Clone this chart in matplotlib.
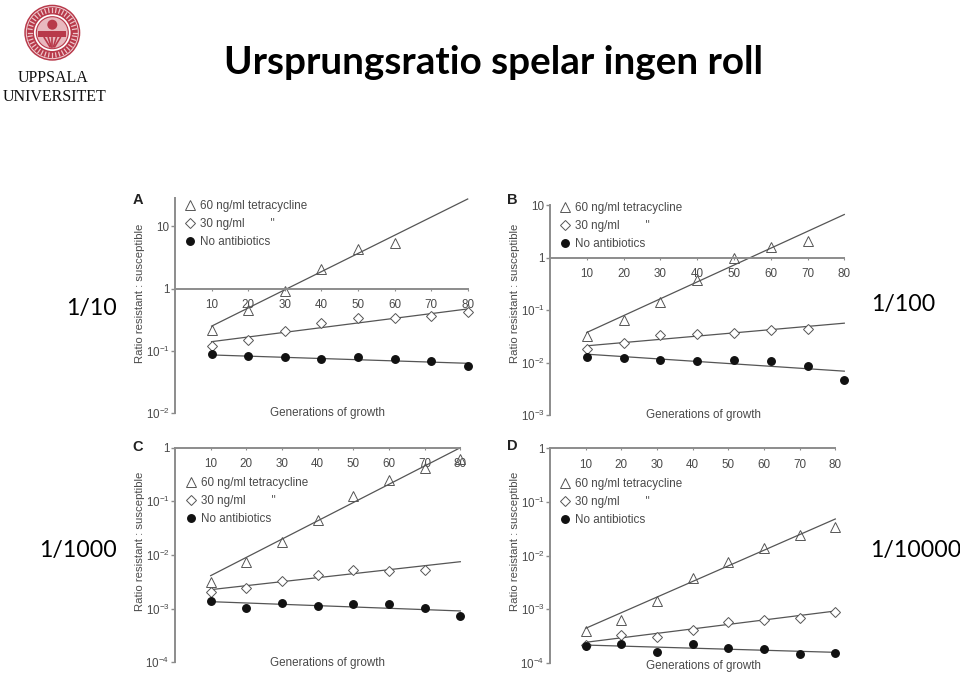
import matplotlib
matplotlib.use('Agg')
import matplotlib.pyplot as plt
import numpy as np
from matplotlib.patches import Circle, Rectangle

plt.rcParams['font.family'] = ['Liberation Sans', 'DejaVu Sans']
plt.rcParams['mathtext.default'] = 'regular'

W, H = 960, 676

gens = [10, 20, 30, 40, 50, 60, 70, 80]
fit_x = [10, 80]

# panel A
a_tri = [0.217, 0.455, 0.92, 2.07, 4.4, 5.3]
a_dia = [0.119, 0.152, 0.209, 0.281, 0.334, 0.339, 0.36, 0.417]
a_cir = [0.0885, 0.082, 0.079, 0.0745, 0.079, 0.0745, 0.069, 0.0568]
a_tri_fit = [0.25, 27.4]
a_dia_fit = [0.141, 0.472]
a_cir_fit = [0.0863, 0.0634]

# panel B
b_tri = [0.0313, 0.065, 0.145, 0.37, 1.0, 1.62, 2.05]
b_dia = [0.0179, 0.0233, 0.0332, 0.0352, 0.0367, 0.0407, 0.0444]
b_cir = [0.01264, 0.0121, 0.01124, 0.01045, 0.01124, 0.01045, 0.0084, 0.00474]
b_tri_fit = [0.0373, 6.59]
b_dia_fit = [0.0208, 0.0561]
b_cir_fit = [0.0144, 0.00684]

# panel C
c_tri = [0.0031, 0.00751, 0.0172, 0.0449, 0.1275, 0.25, 0.424, 0.615]
c_dia = [0.00201, 0.00246, 0.00333, 0.0043, 0.00518, 0.0051, 0.00533]
c_cir = [0.00141, 0.00103, 0.00128, 0.00114, 0.0012, 0.0012, 0.00101, 0.00073]
c_tri_fit = [0.00412, 1.0]
c_dia_fit = [0.00226, 0.0075]
c_cir_fit = [0.00135, 0.000906]

# panel D
d_tri = [0.0004, 0.000633, 0.00143, 0.00389, 0.0075, 0.0137, 0.0243, 0.0347]
d_dia = [0.000216, 0.000328, 0.000305, 0.000412, 0.00058, 0.000633, 0.00069, 0.00089]
d_cir = [0.000207, 0.000223, 0.000163, 0.000223, 0.000193, 0.000182, 0.000145, 0.000153]
d_tri_fit = [0.000443, 0.0482]
d_dia_fit = [0.000243, 0.00093]
d_cir_fit = [0.000216, 0.000158]

legend_labels = ['60 ng/ml tetracycline', '30 ng/ml        "', 'No antibiotics']
ytick_labels = {10: '10', 1: '1', 0.1: '$10^{-1}$', 0.01: '$10^{-2}$',
                0.001: '$10^{-3}$', 0.0001: '$10^{-4}$'}

# letter, series, then layout in pixels: left, right, top, bottom, ymax, ymin
panels = [
    ('A', a_tri, a_dia, a_cir, a_tri_fit, a_dia_fit, a_cir_fit,
     (175, 467.7, 198.4, 413.3, 28, 0.01), (138, 200), (328, 413), (140, 293), (184, 200)),
    ('B', b_tri, b_dia, b_cir, b_tri_fit, b_dia_fit, b_cir_fit,
     (550, 844.3, 205, 415, 10, 0.001), (512, 200), (703, 415), (515, 293), (559, 202)),
    ('C', c_tri, c_dia, c_cir, c_tri_fit, c_dia_fit, c_cir_fit,
     (175, 460.3, 447.7, 662.3, 1, 0.0001), (138, 447), (328, 662.7), (140, 541), (185, 477)),
    ('D', d_tri, d_dia, d_cir, d_tri_fit, d_dia_fit, d_cir_fit,
     (550, 835.3, 448.3, 663, 1, 0.0001), (512, 446), (703, 665.7), (515, 541), (559, 478)),
]

axis_col = '#8c8c8c'
line_col = '#555555'
text_col = '#4a4a4a'
fs = 8.4

fig = plt.figure(figsize=(W / 100, H / 100), dpi=100)


def px_text(x, y, s, **kw):
    fig.text(x / W, 1 - y / H, s, **kw)


for letter, tri, dia, cir, tri_fit, dia_fit, cir_fit, box, let_xy, xl_xy, yl_xy, leg_xy in panels:
    left, right, top, bottom, ymax, ymin = box
    ax = fig.add_axes([left / W, 1 - bottom / H, (right - left) / W, (bottom - top) / H])
    ax.patch.set_alpha(0)
    ax.set_yscale('log')
    ax.set_xlim(0, 80)
    ax.set_ylim(ymin, ymax)

    ax.plot(fit_x, tri_fit, color=line_col, lw=0.9, clip_on=False)
    ax.plot(fit_x, dia_fit, color=line_col, lw=0.9, clip_on=False)
    ax.plot(fit_x, cir_fit, color=line_col, lw=0.9, clip_on=False)
    h1, = ax.plot(gens[:len(tri)], tri, ls='none', marker='^', ms=7, mfc='none', mec='#555555',
                  mew=0.7, clip_on=False)
    h2, = ax.plot(gens[:len(dia)], dia, ls='none', marker='D', ms=5, mfc='white', mec='#555555',
                  mew=0.7, clip_on=False)
    h3, = ax.plot(gens[:len(cir)], cir, ls='none', marker='o', ms=5.4, mfc='#111111', mec='#111111',
                  clip_on=False)

    for s in ['top', 'right']:
        ax.spines[s].set_visible(False)
    ax.spines['left'].set_color(axis_col)
    ax.spines['left'].set_linewidth(1.4)
    ax.spines['bottom'].set_position(('data', 1))
    ax.spines['bottom'].set_color(axis_col)
    ax.spines['bottom'].set_linewidth(1.4)

    yt = [v for v in ytick_labels if ymin <= v <= ymax]
    ax.set_yticks(yt)
    ax.set_yticklabels([ytick_labels[v] for v in yt], fontsize=fs, color=text_col)
    ax.minorticks_off()
    ax.set_xticks(gens)
    ax.set_xticklabels([str(g) for g in gens], fontsize=fs, color=text_col)
    ax.tick_params(axis='y', length=3, width=1, color=axis_col, pad=1)
    ax.tick_params(axis='x', length=1.5, width=0.8, color=axis_col, pad=6)

    ax.legend([h1, h2, h3], legend_labels, loc='upper left',
              bbox_to_anchor=(leg_xy[0] / W, 1 - leg_xy[1] / H), bbox_transform=fig.transFigure,
              frameon=False, fontsize=fs, labelcolor=text_col, labelspacing=0.52, handlelength=1,
              handletextpad=0.37, borderpad=0, borderaxespad=0, markerscale=1)

    px_text(let_xy[0], let_xy[1], letter, fontsize=10.5, fontweight='bold', color='#222222',
            ha='center', va='center')
    px_text(xl_xy[0], xl_xy[1], 'Generations of growth', fontsize=fs, color=text_col,
            ha='center', va='center')
    px_text(yl_xy[0], yl_xy[1], 'Ratio resistant : susceptible', fontsize=8.2, color=text_col,
            rotation=90, ha='center', va='center')

# slide text
px_text(493.5, 63, 'Ursprungsratio spelar ingen roll', fontsize=27.8, fontweight='bold',
        family=['Lato', 'DejaVu Sans'], color='black', ha='center', va='center')
for x, y, s, ha in [(117, 308, '1/10', 'right'), (871, 304, '1/100', 'left'),
                    (117, 551, '1/1000', 'right'), (870, 551, '1/10000', 'left')]:
    px_text(x, y, s, fontsize=16.7, family=['Lato', 'DejaVu Sans'], color='black', ha=ha, va='center')

# logo
red = '#b8394a'
logo = fig.add_axes([0, 0, 1, 1])
logo.set_xlim(0, W)
logo.set_ylim(H, 0)
logo.axis('off')
logo.patch.set_alpha(0)
cx, cy = 52.3, 32.7
logo.add_patch(Circle((cx, cy), 28, fc=red, ec='none'))
logo.add_patch(Circle((cx, cy), 26.5, fc='#f2d5d8', ec='none'))
logo.add_patch(Circle((cx, cy), 25.5, fc=red, ec='none'))
logo.add_patch(Circle((cx, cy), 19, fc='white', ec=red, lw=1))
for a in np.linspace(0, 2 * np.pi, 40, endpoint=False):
    logo.plot([cx + 20.5 * np.cos(a), cx + 24.5 * np.cos(a)],
              [cy + 20.5 * np.sin(a), cy + 24.5 * np.sin(a)], color='#eec4c9', lw=0.9)
logo.add_patch(Circle((cx, cy), 16, fc='#e9b9bf', ec=red, lw=0.8))
logo.add_patch(Rectangle((cx - 14, cy - 2), 28, 6, fc=red, ec='none'))
logo.add_patch(Circle((cx, cy - 8), 5, fc=red, ec='none'))
for dx in [-8, -4, 0, 4, 8]:
    logo.plot([cx + dx, cx + dx * 0.3], [cy + 5, cy + 14], color=red, lw=1.2)
px_text(53.5, 78, 'UPPSALA', fontsize=11.5, family=['Liberation Serif'], color='#111111',
        ha='center', va='center')
px_text(54.5, 97, 'UNIVERSITET', fontsize=11.5, family=['Liberation Serif'], color='#111111',
        ha='center', va='center')

fig.savefig('out.png', dpi=100)
